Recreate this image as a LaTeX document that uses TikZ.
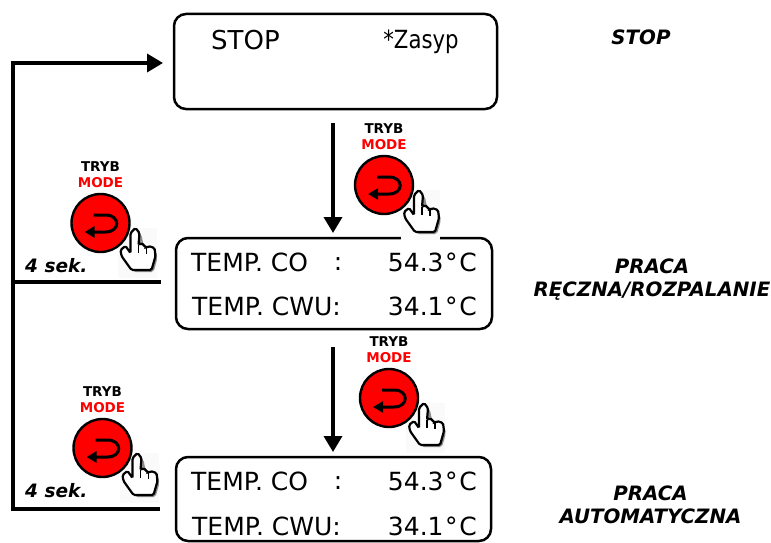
\documentclass[tikz,border=0pt]{standalone}
\usepackage{fontspec}
\setmainfont{DejaVu Sans}
\usetikzlibrary{arrows.meta}
\definecolor{knobred}{RGB}{255,0,0}
\tikzset{
  panel/.style={draw,line width=2.5pt,rounded corners=12pt,inner sep=0pt},
  lcd/.style={font=\fontsize{25}{29}\selectfont,inner sep=0pt},
  side/.style={font=\fontsize{19.8}{22.5}\selectfont\bfseries\itshape,align=center,inner sep=0pt},
  flow/.style={line width=3.5pt},
  flowtip/.style={flow,-{Triangle[width=18pt,length=16pt]}},
  btntext/.style={font=\fontsize{13.5}{15}\selectfont\bfseries,inner sep=0pt},
  secs/.style={font=\fontsize{18.5}{20}\selectfont\bfseries\itshape,inner sep=0pt},
  modebutton/.pic={
    \fill[white!98!black] (17,5) rectangle (56,55);
    \node[btntext] (-tryb) at (0,-56) {TRYB};
    \node[btntext,text=knobred] (-mode) at (0,-40) {MODE};
    \node[draw,fill=knobred,circle,line width=2.4pt,minimum size=58pt,inner sep=0pt] (-knob) at (0,0) {};
    \draw[line width=3pt,-{Triangle[width=11pt,length=10pt]}] (-7,-8) -- (5,-8)
      .. controls (20,-8) and (20,9) .. (5,9) -- (-16,9);
    \fill[black!45,shift={(2,2)},rounded corners=2pt] (35,5) -- (30,10) -- (30,30) -- (25,23) -- (20,27)
      -- (21,33) -- (31,47) -- (51,47) -- (55,33) -- (53,25) -- (41,20) -- (39,10) -- cycle;
    \draw[fill=white,line width=2.2pt,rounded corners=1.5pt] (35,5) -- (30,10) -- (30,30) -- (25,23) -- (20,27)
      -- (21,33) -- (31,47) -- (51,47) -- (55,33) -- (54,25) -- (48,23) -- (46,25) -- (41,20) -- (38,22) -- (39,10) -- cycle;
    \draw[line width=1.2pt] (46,25) -- (46,31) (38,22) -- (38,30);
  }
}
\begin{document}
\begin{tikzpicture}[x=1pt,y=-1pt]
  \useasboundingbox (0,0) rectangle (771,543);
  \node[panel,minimum width=323pt,minimum height=95pt] (stopbox) at (335.5,61.5) {};
  \node[panel,minimum width=316pt,minimum height=91pt] (handbox) at (334,283.5) {};
  \node[panel,minimum width=315pt,minimum height=84pt] (autobox) at (333.5,499) {};
  \node[lcd,font=\fontsize{26}{29}\selectfont] (stoptxt) at (245.5,40) {STOP};
  \node[lcd] (fueltxt) at (421,42) {\scalebox{.85}[1]{*Zasyp}};
  \node[lcd,anchor=west] (coA) at (191,262) {TEMP. CO};
  \node[lcd] (colA) at (338,264) {:};
  \node[lcd,anchor=east] (coValA) at (477,262) {54.3\kern1.6pt°\kern1.6pt C};
  \node[lcd,anchor=west] (cwuA) at (192,306) {TEMP. CWU:};
  \node[lcd,anchor=east] (cwuValA) at (477,306) {34.1\kern1.6pt°\kern1.6pt C};
  \node[lcd,anchor=west] (coB) at (191,481) {TEMP. CO};
  \node[lcd] (colB) at (338,483) {:};
  \node[lcd,anchor=east] (coValB) at (477,481) {54.3\kern1.6pt°\kern1.6pt C};
  \node[lcd,anchor=west] (cwuB) at (192,526) {TEMP. CWU:};
  \node[lcd,anchor=east] (cwuValB) at (477,526) {34.1\kern1.6pt°\kern1.6pt C};
  \node[side] (stopside) at (641,37) {STOP};
  \node[side] (handside) at (652,279.5) {PRACA\\RĘCZNA/ROZPALANIE};
  \node[side] (autoside) at (650.5,505) {PRACA\\AUTOMATYCZNA};
  \node[secs,anchor=west] (secsA) at (25,266) {4 sek.};
  \node[secs,anchor=west] (secsB) at (25,491) {4 sek.};
  \coordinate (topL) at (13,63);
  \coordinate (topR) at (163,63);
  \coordinate (midR) at (161,282);
  \coordinate (midL) at (13,282);
  \coordinate (botL) at (13,509);
  \coordinate (botR) at (160,509);
  \coordinate (downAs) at (333,123);
  \coordinate (downAe) at (333,233);
  \coordinate (downBs) at (333,347);
  \coordinate (downBe) at (333,452);
  \begin{scope}[flow]
    \draw[flowtip] (botR) -- (botL) -- (topL) -- (topR);
    \draw (midL) -- (midR);
    \draw[flowtip] (downAs) -- (downAe);
    \draw[flowtip] (downBs) -- (downBe);
  \end{scope}
  \pic (btnA) at (384,185) {modebutton};
  \pic (btnB) at (100.5,223) {modebutton};
  \pic (btnC) at (389,398) {modebutton};
  \pic (btnD) at (102.5,448) {modebutton};
\end{tikzpicture}
\end{document}
